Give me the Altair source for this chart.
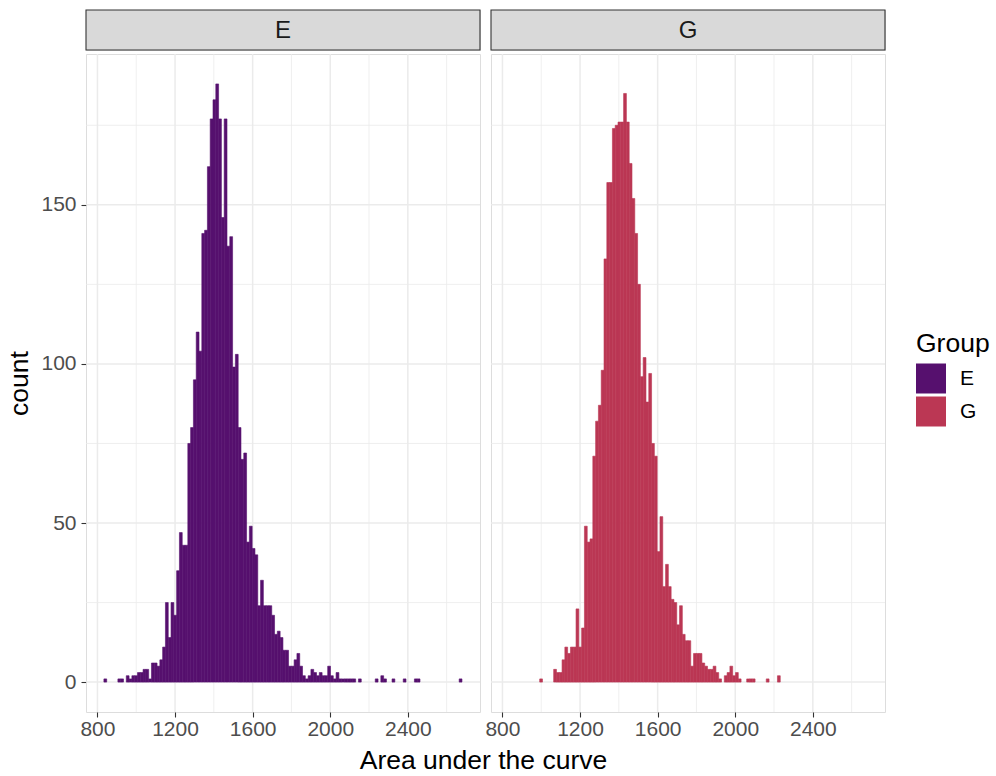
import altair as alt
import pandas as pd

FONT = "Liberation Sans"

groups = ["E", "G"]
colors = ["#56106E", "#BB3754"]

bin_origin = 833.3
bin_width = 14.42

e_counts = [1, 0, 0, 0, 0, 1, 1, 0, 2, 1,
            2, 2, 3, 3, 4, 4, 1, 6, 6, 5,
            7, 11, 25, 14, 25, 21, 35, 47, 43, 43,
            75, 80, 95, 110, 104, 141, 142, 162, 177, 183,
            188, 177, 146, 177, 137, 140, 99, 103, 80, 70,
            72, 44, 49, 42, 40, 24, 32, 24, 24, 24,
            21, 15, 16, 14, 10, 10, 5, 5, 7, 9,
            5, 2, 1, 2, 4, 3, 2, 3, 2, 2,
            5, 2, 1, 3, 1, 1, 1, 1, 1, 1,
            0, 1, 0, 0, 0, 0, 0, 1, 0, 2,
            1, 0, 0, 1, 0, 0, 0, 1, 0, 0,
            0, 1, 1, 0, 0, 0, 0, 0, 0, 0,
            0, 0, 0, 0, 0, 0, 0, 1]

g_counts = [0, 0, 0, 0, 0, 0, 0, 0, 0, 0,
            0, 1, 0, 0, 0, 0, 4, 3, 3, 7,
            11, 9, 11, 11, 23, 11, 17, 49, 44, 45,
            71, 82, 87, 98, 133, 157, 157, 174, 175, 176,
            176, 185, 176, 163, 152, 141, 125, 96, 102, 88,
            97, 75, 71, 41, 52, 30, 37, 30, 26, 25,
            18, 24, 15, 13, 13, 5, 9, 9, 9, 6,
            5, 4, 4, 5, 3, 1, 0, 2, 3, 5,
            2, 3, 1, 0, 0, 1, 1, 1, 0, 0,
            0, 0, 1, 0, 0, 0, 2, 0, 0, 0,
            0, 0, 0, 0, 0, 0, 0, 0, 0, 0,
            0, 0, 0, 0, 0, 0, 0, 0, 0, 0,
            0, 0, 0, 0, 0, 0, 0, 0]

x_ticks = [800, 1200, 1600, 2000, 2400]
x_minor = [1000, 1400, 1800, 2200, 2600]
y_ticks = [0, 50, 100, 150]
y_minor = [25, 75, 125, 175]
x_domain = [741, 2772]
y_domain = [-9.4, 197.4]

W = 394
H = 658
SH = 40
TICK_FS = 21
TITLE_FS = 26.5

xs = alt.Scale(domain=x_domain, nice=False, zero=False)
ys = alt.Scale(domain=y_domain, nice=False, zero=False)
cs = alt.Scale(domain=groups, range=colors)


def hist_frame(group, counts):
    rows = []
    for k, c in enumerate(counts):
        if c > 0:
            s = bin_origin + k * bin_width
            rows.append({"group": group, "start": s, "end": s + bin_width, "count": c})
    return pd.DataFrame(rows)


def x_axis(show_title):
    kw = dict(values=x_ticks, format="d", grid=False, domain=False, tickColor="#333333",
              tickSize=5, tickWidth=1.1, labelFontSize=TICK_FS, labelFont=FONT,
              labelColor="#4D4D4D", labelPadding=1)
    if show_title:
        kw.update(title="Area under the curve", titleFontSize=TITLE_FS, titleFont=FONT,
                  titleFontWeight="normal", titleColor="black", titleX=397,
                  titleY=35, titleAlign="center")
    else:
        kw.update(title="")
    return alt.Axis(**kw)


def y_axis():
    return alt.Axis(values=y_ticks, format="d", grid=False, domain=False, tickColor="#333333",
                    tickSize=5, tickWidth=1.1, labelFontSize=TICK_FS, labelFont=FONT,
                    labelColor="#4D4D4D", labelPadding=5, title="count",
                    titleFontSize=TITLE_FS, titleFont=FONT, titleFontWeight="normal",
                    titleColor="black", titlePadding=7)


def panel(group, counts, first):
    df = hist_frame(group, counts)
    xa = x_axis(first)
    ya = y_axis() if first else None

    def X(f):
        return alt.X(f, scale=xs, axis=xa)

    def Y(f):
        if ya is None:
            return alt.Y(f, scale=ys, axis=None)
        return alt.Y(f, scale=ys, axis=ya)

    vmaj = alt.Chart(pd.DataFrame({"v": x_ticks})).mark_rule(color="#EBEBEB", strokeWidth=1.5).encode(
        x=X("v:Q"), y=alt.value(0), y2=alt.value(H))
    vmin = alt.Chart(pd.DataFrame({"v": x_minor})).mark_rule(color="#EBEBEB", strokeWidth=0.8).encode(
        x=X("v:Q"), y=alt.value(0), y2=alt.value(H))
    hmaj = alt.Chart(pd.DataFrame({"h": y_ticks})).mark_rule(color="#EBEBEB", strokeWidth=1.5).encode(
        y=Y("h:Q"), x=alt.value(0), x2=alt.value(W))
    hmin = alt.Chart(pd.DataFrame({"h": y_minor})).mark_rule(color="#EBEBEB", strokeWidth=0.8).encode(
        y=Y("h:Q"), x=alt.value(0), x2=alt.value(W))
    legend = alt.Legend(title="Group", titleFontSize=TITLE_FS, titleFont=FONT,
                        titleFontWeight="normal", titleColor="black",
                        labelFontSize=TICK_FS, labelFont=FONT, labelColor="black",
                        symbolType="square", symbolSize=900, symbolStrokeWidth=0,
                        symbolOpacity=1, rowPadding=3, titlePadding=6,
                        labelOffset=14, orient="none", legendX=830, legendY=321)
    bars = alt.Chart(df).mark_bar(opacity=1, strokeWidth=0.6).encode(
        x=X("start:Q"), x2="end:Q", y=Y("count:Q"), y2=alt.datum(0),
        color=alt.Color("group:N", scale=cs, legend=legend),
        stroke=alt.Stroke("group:N", scale=cs, legend=None))
    return alt.layer(vmin, vmaj, hmin, hmaj, bars).properties(width=W, height=H)


def strip(label):
    d = pd.DataFrame({"label": [label]})
    base = alt.Chart(d)
    rect = base.mark_rect(fill="#D9D9D9", stroke="#333333", strokeWidth=1.1).encode(
        x=alt.value(0), x2=alt.value(W), y=alt.value(0), y2=alt.value(SH))
    txt = base.mark_text(fontSize=24, font=FONT, color="#1A1A1A").encode(
        text="label:N", x=alt.value(W / 2), y=alt.value(SH / 2 + 1))
    return alt.layer(rect, txt).properties(width=W, height=SH)


strips = alt.hconcat(strip("E"), strip("G"), spacing=11, bounds="flush")
panels = alt.hconcat(panel("E", e_counts, True), panel("G", g_counts, False),
                     spacing=11, bounds="flush")

chart = alt.vconcat(strips, panels, spacing=0).resolve_scale(
    color="shared", stroke="shared").properties(
    padding={"left": 6, "top": 8, "right": 5, "bottom": 5}
).configure_view(stroke="#333333", strokeWidth=1.1).configure(background="white")

chart.save("out.html", embed_options={"renderer": "svg", "actions": False})
